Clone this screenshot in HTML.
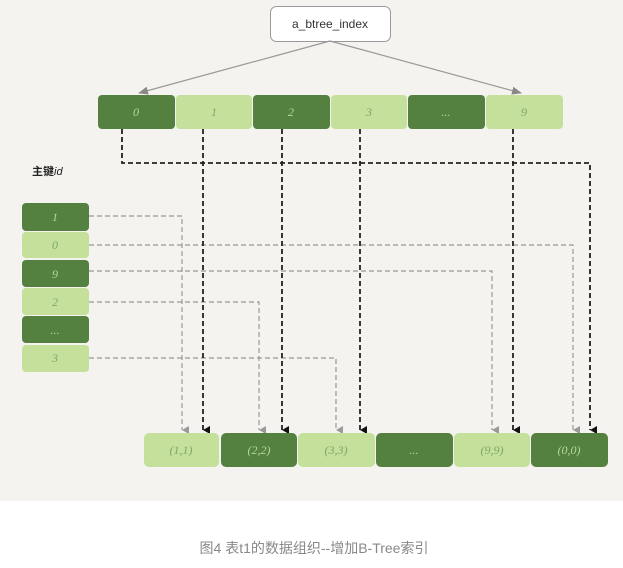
<!DOCTYPE html>
<html><head><meta charset="utf-8"><style>
body{margin:0;width:623px;height:563px;background:#fff;overflow:hidden}
</style></head><body>
<svg width="623" height="563" xmlns="http://www.w3.org/2000/svg" font-family="Liberation Serif, serif" font-style="italic">
<defs>
<marker id="ag" markerWidth="8" markerHeight="8" refX="4" refY="7" orient="auto" markerUnits="userSpaceOnUse"><path d="M0,0 L8,0 L4,7z" fill="#999"/></marker>
<marker id="ab" markerWidth="8" markerHeight="8" refX="4" refY="7" orient="auto" markerUnits="userSpaceOnUse"><path d="M0,0 L8,0 L4,7z" fill="#111"/></marker>
<marker id="at" markerWidth="10" markerHeight="8" refX="9" refY="4" orient="auto" markerUnits="userSpaceOnUse"><path d="M0,0 L10,4 L0,8z" fill="#888"/></marker>
</defs>
<rect x="0" y="0" width="623" height="501" fill="#f4f3ef"/>
<rect x="270.5" y="6.5" width="120" height="35" rx="6" fill="#fff" stroke="#999"/>
<text x="330" y="28" text-anchor="middle" font-family="Liberation Sans, sans-serif" font-style="normal" font-size="12" fill="#333">a_btree_index</text>
<line x1="330" y1="41" x2="139" y2="93" stroke="#999" stroke-width="1.2" marker-end="url(#at)"/>
<line x1="330" y1="41" x2="521" y2="93" stroke="#999" stroke-width="1.2" marker-end="url(#at)"/>
<g font-size="12" text-anchor="middle">
<rect x="98" y="95" width="77" height="34" rx="4" fill="#548140"/><text x="136" y="116" fill="#b6d69a">0</text>
<rect x="176" y="95" width="76" height="34" rx="4" fill="#c4e09a"/><text x="214" y="116" fill="#7da86a">1</text>
<rect x="253" y="95" width="77" height="34" rx="4" fill="#548140"/><text x="291" y="116" fill="#b6d69a">2</text>
<rect x="331" y="95" width="76" height="34" rx="4" fill="#c4e09a"/><text x="369" y="116" fill="#7da86a">3</text>
<rect x="408" y="95" width="77" height="34" rx="4" fill="#548140"/><text x="446" y="116" fill="#b6d69a">...</text>
<rect x="486" y="95" width="77" height="34" rx="4" fill="#c4e09a"/><text x="524" y="116" fill="#7da86a">9</text>
</g>
<text x="32" y="175" font-family="Liberation Sans, Noto Sans CJK SC, sans-serif" font-style="normal" font-size="11" font-weight="bold" fill="#222">主键<tspan font-style="italic" font-weight="normal">id</tspan></text>
<g font-size="12" text-anchor="middle">
<rect x="22" y="203" width="67" height="28" rx="4" fill="#548140"/><text x="55" y="221" fill="#b6d69a">1</text>
<rect x="22" y="232" width="67" height="26" rx="4" fill="#c4e09a"/><text x="55" y="249" fill="#7da86a">0</text>
<rect x="22" y="260" width="67" height="27" rx="4" fill="#548140"/><text x="55" y="278" fill="#b6d69a">9</text>
<rect x="22" y="288" width="67" height="27" rx="4" fill="#c4e09a"/><text x="55" y="306" fill="#7da86a">2</text>
<rect x="22" y="316" width="67" height="27" rx="4" fill="#548140"/><text x="55" y="334" fill="#b6d69a">...</text>
<rect x="22" y="345" width="67" height="27" rx="4" fill="#c4e09a"/><text x="55" y="362" fill="#7da86a">3</text>
</g>
<g fill="none" stroke="#999" stroke-width="1.2" stroke-dasharray="5,3">
<path d="M89,216 H182 V430" marker-end="url(#ag)"/>
<path d="M89,245 H573 V430" marker-end="url(#ag)"/>
<path d="M89,271 H492 V430" marker-end="url(#ag)"/>
<path d="M89,302 H259 V430" marker-end="url(#ag)"/>
<path d="M89,358 H336 V430" marker-end="url(#ag)"/>
</g>
<g fill="none" stroke="#222" stroke-width="1.8" stroke-dasharray="5,3">
<path d="M122,129 V163 H590 V430" marker-end="url(#ab)"/>
<path d="M203,129 V430" marker-end="url(#ab)"/>
<path d="M282,129 V430" marker-end="url(#ab)"/>
<path d="M360,129 V430" marker-end="url(#ab)"/>
<path d="M513,129 V430" marker-end="url(#ab)"/>
</g>
<g font-size="12" text-anchor="middle">
<rect x="144" y="433" width="75" height="34" rx="5" fill="#c4e09a"/><text x="181" y="454" fill="#7da86a">(1,1)</text>
<rect x="221" y="433" width="76" height="34" rx="5" fill="#548140"/><text x="259" y="454" fill="#b6d69a">(2,2)</text>
<rect x="298" y="433" width="77" height="34" rx="5" fill="#c4e09a"/><text x="336" y="454" fill="#7da86a">(3,3)</text>
<rect x="376" y="433" width="77" height="34" rx="5" fill="#548140"/><text x="414" y="454" fill="#b6d69a">...</text>
<rect x="454" y="433" width="76" height="34" rx="5" fill="#c4e09a"/><text x="492" y="454" fill="#7da86a">(9,9)</text>
<rect x="531" y="433" width="77" height="34" rx="5" fill="#548140"/><text x="569" y="454" fill="#b6d69a">(0,0)</text>
</g>
<text x="314" y="553" text-anchor="middle" font-family="Liberation Sans, Noto Sans CJK SC, sans-serif" font-style="normal" font-size="14" fill="#888">图4 表t1的数据组织--增加B-Tree索引</text>
</svg>
</body></html>
